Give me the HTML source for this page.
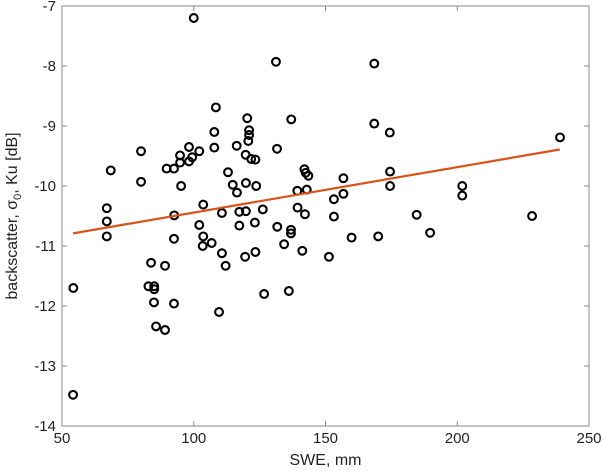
<!DOCTYPE html>
<html><head><meta charset="utf-8">
<style>
html,body{margin:0;padding:0;background:#fff;}
svg{display:block;font-family:"Liberation Sans",sans-serif;}
</style></head>
<body>
<svg id="chart" width="603" height="471" viewBox="0 0 603 471" xmlns="http://www.w3.org/2000/svg">
<g id="axes"></g>
<g id="marks"></g>
<text x="325.5" y="465" font-size="16" text-anchor="middle" fill="#222">SWE, mm</text>
<text transform="translate(17,216) rotate(-90)" font-size="16" text-anchor="middle" fill="#222">backscatter, σ<tspan font-size="11" dy="4">0</tspan><tspan dy="-4">, Ku [dB]</tspan></text>
</svg>
<script>
const xTicks = [50, 100, 150, 200, 250];
const yTicks = [-7, -8, -9, -10, -11, -12, -13, -14];
const sweValues = [68.5,80.0,80.0,89.7,92.5,94.8,94.8,95.2,98.2,98.2,99.4,100.0,102.1,107.8,107.8,108.4,113.0,114.8,116.3,116.4,119.7,119.8,120.3,120.7,121.0,121.0,121.8,123.4,123.7,131.2,131.6,137.0,139.3,142.0,142.5,142.9,143.5,54.3,67.0,67.0,67.0,103.6,92.6,102.1,92.5,103.6,103.4,106.8,110.7,117.3,119.8,117.3,123.2,110.7,112.1,119.5,123.4,83.8,89.1,82.8,85.0,85.0,84.9,92.5,109.6,85.7,89.1,126.2,156.8,174.5,174.5,156.8,153.2,139.4,142.2,153.2,184.6,131.7,136.9,136.9,134.3,141.2,151.3,159.9,170.0,189.7,126.7,136.1,239.0,201.9,201.9,228.4,168.5,168.5,174.4,54.2];
const sigmaValues = [-9.74,-9.42,-9.93,-9.71,-9.71,-9.49,-9.61,-10.00,-9.35,-9.59,-9.52,-7.20,-9.42,-9.10,-9.36,-8.69,-9.77,-9.98,-9.33,-10.11,-9.48,-9.95,-8.87,-9.25,-9.07,-9.15,-9.55,-9.56,-10.00,-7.93,-9.38,-8.89,-10.08,-9.72,-9.78,-10.06,-9.83,-11.70,-10.37,-10.59,-10.84,-10.31,-10.49,-10.65,-10.88,-10.84,-11.00,-10.95,-10.45,-10.43,-10.42,-10.66,-10.61,-11.12,-11.33,-11.18,-11.10,-11.28,-11.33,-11.67,-11.67,-11.72,-11.94,-11.96,-12.10,-12.34,-12.40,-10.39,-9.87,-9.76,-10.00,-10.13,-10.22,-10.36,-10.47,-10.51,-10.48,-10.68,-10.73,-10.79,-10.97,-11.08,-11.18,-10.86,-10.84,-10.78,-11.80,-11.75,-9.19,-10.00,-10.16,-10.50,-7.96,-8.96,-9.11,-13.48];
const fitX = [54.2, 238.9];
const fitSlope = [0.00757];
const fitIntercept = [-11.20];

const L=62,R=589,T=6,B=426;
function sx(v){return L+(v-50)/200*(R-L);}
function sy(v){return T+(-7-v)/7*(B-T);}
const NS="http://www.w3.org/2000/svg";
function mk(tag,attrs,parent){const e=document.createElementNS(NS,tag);for(const k in attrs)e.setAttribute(k,attrs[k]);parent.appendChild(e);return e;}
const axes=document.getElementById('axes');
const frame=mk('rect',{x:L,y:T,width:R-L,height:B-T,fill:'none',stroke:'#8a8a8a','stroke-width':1},axes);


xTicks.forEach(t=>{
  const x=sx(t);
  const tb=mk('line',{x1:x,x2:x,y1:B,y2:B-5,stroke:'#8a8a8a'},axes);
  
  
  const tt=mk('line',{x1:x,x2:x,y1:T,y2:T+5,stroke:'#8a8a8a'},axes);
  
  
  const lb=mk('text',{x:x,y:B+17,'font-size':15,'text-anchor':'middle',fill:'#222'},axes);
  lb.textContent=t;
  
  
});
yTicks.forEach(t=>{
  const y=sy(t);
  const tl=mk('line',{x1:L,x2:L+5,y1:y,y2:y,stroke:'#8a8a8a'},axes);
  
  
  const tr=mk('line',{x1:R,x2:R-5,y1:y,y2:y,stroke:'#8a8a8a'},axes);
  
  
  const lb=mk('text',{x:L-6,y:y+5,'font-size':15,'text-anchor':'end',fill:'#222'},axes);
  lb.textContent=t;
  
  
});
const marks=document.getElementById('marks');
sweValues.forEach((v,i)=>{
  const c=mk('circle',{cx:sx(v),cy:sy(sigmaValues[i]),r:3.9,fill:'none',stroke:'#000','stroke-width':2.1},marks);
  
  
});
const fl=mk('line',{x1:sx(fitX[0]),y1:sy(fitIntercept[0]+fitSlope[0]*fitX[0]),x2:sx(fitX[1]),y2:sy(fitIntercept[0]+fitSlope[0]*fitX[1]),stroke:'#d95319','stroke-width':2.2},marks);


</script>
</body></html>
